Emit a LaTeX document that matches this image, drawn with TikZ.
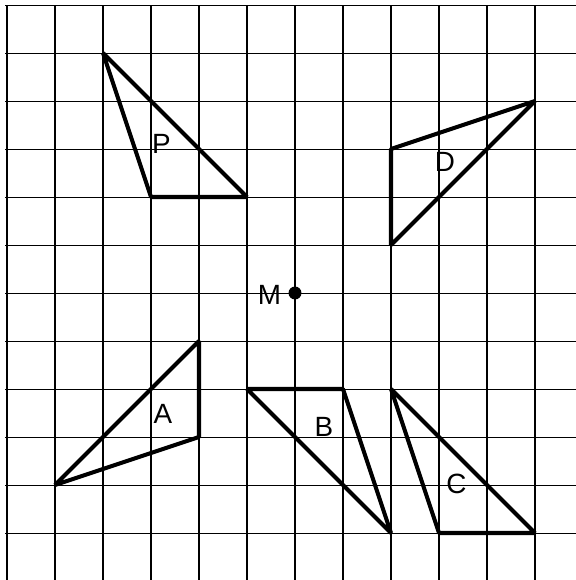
\documentclass[tikz,border=0pt]{standalone}
\usepackage{fontspec}
\setmainfont{Liberation Sans}
\begin{document}
\begin{tikzpicture}[
  gridline/.style={line width=0.6pt, black},
  tri/.style={line width=2.4pt, black, line join=bevel},
  lab/.style={inner sep=0pt, font=\fontsize{16.5}{19}\selectfont}
]
\useasboundingbox (-0.1458,0.1042) rectangle (11.854,-11.979);
\fill[white] (-0.1458,0.1042) rectangle (11.854,-11.979);
% grid
\foreach \i in {0,...,11} {
  \draw[gridline] (\i,0) -- (\i,-11.979);
  \draw[gridline] (-0.04,-\i) -- (11.854,-\i);
}
% P
\coordinate (p1) at (2,-1);
\coordinate (p2) at (3,-4);
\coordinate (p3) at (5,-4);
\draw[tri] (p1) -- (p2) -- (p3) -- cycle;
\node[lab] (lP) at (3.219,-2.885) {P};
% D
\coordinate (d1) at (8,-3);
\coordinate (d2) at (11,-2);
\coordinate (d3) at (8,-5);
\draw[tri] (d1) -- (d2) -- (d3) -- cycle;
\node[lab] (lD) at (9.125,-3.26) {D};
% M
\fill (6,-6) circle (0.135) coordinate (m);
\node[lab] (lM) at (5.47,-6.05) {M};
% A
\coordinate (a1) at (4,-7);
\coordinate (a2) at (4,-9);
\coordinate (a3) at (1,-10);
\draw[tri] (a1) -- (a2) -- (a3) -- cycle;
\node[lab] (lA) at (3.25,-8.52) {A};
% B
\coordinate (b1) at (5,-8);
\coordinate (b2) at (7,-8);
\coordinate (b3) at (8,-11);
\draw[tri] (b1) -- (b2) -- (b3) -- cycle;
\node[lab] (lB) at (6.604,-8.79) {B};
% C
\coordinate (c1) at (8,-8);
\coordinate (c2) at (9,-11);
\coordinate (c3) at (11,-11);
\draw[tri] (c1) -- (c2) -- (c3) -- cycle;
\node[lab] (lC) at (9.365,-9.97) {C};
\end{tikzpicture}
\end{document}
